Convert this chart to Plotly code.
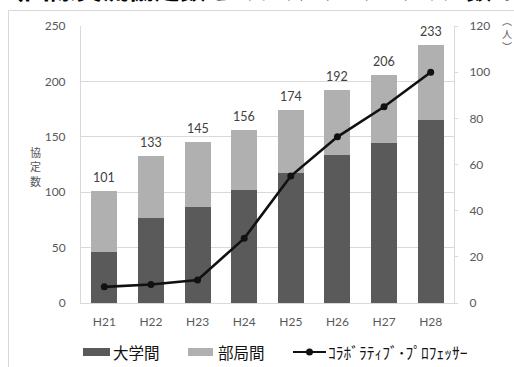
import plotly.graph_objects as go

# --- data ---------------------------------------------------------------
years = ["H21", "H22", "H23", "H24", "H25", "H26", "H27", "H28"]
univ_level = [46, 77, 87, 102, 117, 134, 144, 165]          # 大学間
dept_level = [55, 56, 58, 54, 57, 58, 62, 68]               # 部局間
totals = [101, 133, 145, 156, 174, 192, 206, 233]
professors = [7, 8, 10, 28, 55, 72, 85, 100]                 # コラボラティブ・プロフェッサー (人)

DARK = "#5a5a5a"
LIGHT = "#b0b0b0"
GRID = "#d9d9d9"
TICK = "#595959"
FONT = "Lato, Noto Sans CJK JP, sans-serif"
JP = "Noto Sans CJK JP, sans-serif"

W, H = 514, 367
L, R, T, B = 81, 454, 26, 303


def px(x):
    return (x - L) / (R - L)


def py(y):
    return (B - y) / (B - T)


fig = go.Figure()
fig.add_bar(x=years, y=univ_level, name="大学間", marker_color=DARK,
            marker_line_width=0, showlegend=False)
fig.add_bar(x=years, y=dept_level, name="部局間", marker_color=LIGHT,
            marker_line_width=0, showlegend=False)
fig.add_scatter(x=years, y=professors, yaxis="y2", mode="lines+markers",
                name="ｺﾗﾎﾞﾗﾃｨﾌﾞ･ﾌﾟﾛﾌｪｯｻｰ",
                line=dict(color="#111111", width=2.6),
                marker=dict(color="#111111", size=7), showlegend=False)

fig.update_layout(
    width=W, height=H,
    margin=dict(l=L, r=W - R, t=T, b=H - B, pad=0),
    barmode="stack", bargap=0.44,
    paper_bgcolor="white", plot_bgcolor="white",
    font=dict(family=FONT, size=12, color=TICK),
    xaxis=dict(showline=True, linecolor=GRID, linewidth=1, ticks="",
               tickfont=dict(size=12, color=TICK), ticklabelstandoff=8),
    yaxis=dict(range=[0, 250], dtick=50, showgrid=True, gridcolor=GRID,
               showline=True, linecolor=GRID, zeroline=False, ticks="",
               ticklabelstandoff=12, tickfont=dict(size=12, color=TICK)),
    yaxis2=dict(range=[0, 120], dtick=20, overlaying="y", side="right",
                showgrid=False, showline=True, linecolor=GRID, zeroline=False,
                ticks="outside", ticklen=3, tickcolor=GRID,
                ticklabelstandoff=9, tickfont=dict(size=12, color=TICK)),
)

shapes = [
    # chart frame (top and left edges; the rest lies beyond the canvas)
    dict(type="line", xref="paper", yref="paper",
         x0=px(8.5), x1=px(514), y0=py(10.5), y1=py(10.5),
         line=dict(color=GRID, width=1)),
    dict(type="line", xref="paper", yref="paper",
         x0=px(8.5), x1=px(8.5), y0=py(367), y1=py(10.5),
         line=dict(color=GRID, width=1)),
    # legend swatches
    dict(type="rect", xref="paper", yref="paper", x0=px(83), x1=px(110),
         y0=py(356), y1=py(348), fillcolor=DARK, line_width=0),
    dict(type="rect", xref="paper", yref="paper", x0=px(188), x1=px(213),
         y0=py(356), y1=py(348), fillcolor=LIGHT, line_width=0),
    dict(type="line", xref="paper", yref="paper", x0=px(293), x1=px(326),
         y0=py(352), y1=py(352), line=dict(color="#111111", width=2)),
    dict(type="circle", xref="paper", yref="paper", x0=px(306), x1=px(313),
         y0=py(355.5), y1=py(348.5), fillcolor="#111111", line_width=0),
]


def note(text, x, y, xanchor, yanchor, **font):
    return dict(text=text, xref="paper", yref="paper", x=px(x), y=py(y),
                xanchor=xanchor, yanchor=yanchor, showarrow=False,
                font=font)


annotations = [
    note("（国際交流協定数とｺﾗﾎﾞﾗﾃｨﾌﾞ･ﾌﾟﾛﾌｪｯｻｰ数の推移）", -4, 8.2, "left", "bottom",
         family=JP, size=26, color="black", weight="bold"),
    note("協<br>定<br>数", 35, 166, "center", "middle", family=JP, size=11, color=TICK),
    note("︵<br>人<br>︶", 507, 34, "center", "middle", family=JP, size=10, color=TICK),
    note("大学間", 111, 352, "left", "middle", family=JP, size=15.5, color="#111111"),
    note("部局間", 216, 352, "left", "middle", family=JP, size=15.5, color="#111111"),
    note("ｺﾗﾎﾞﾗﾃｨﾌﾞ･ﾌﾟﾛﾌｪｯｻｰ", 326, 352, "left", "middle", family=JP, size=15.5, color="#111111"),
]

# total labels above each stacked bar
for yr, tot in zip(years, totals):
    annotations.append(dict(text=str(tot), xref="x", yref="y", x=yr, y=tot,
                            xanchor="center", yanchor="bottom", yshift=4,
                            showarrow=False,
                            font=dict(family=FONT, size=12.5, color="#404040")))

fig.update_layout(shapes=shapes, annotations=annotations)
fig.write_html("out.html")
